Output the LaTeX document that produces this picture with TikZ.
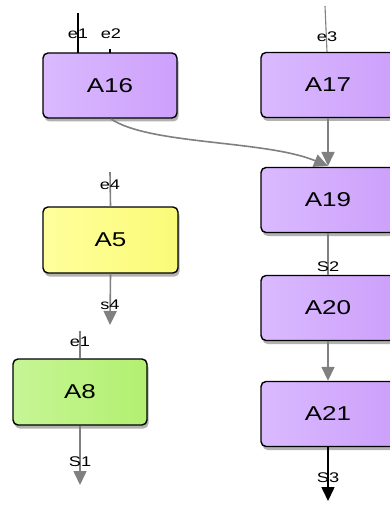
\documentclass[tikz,border=0pt]{standalone}
\usepackage{fontspec}
\setmainfont{Liberation Sans}[FakeStretch=1.3]
\usetikzlibrary{arrows.meta,shadows}
\definecolor{purpL}{HTML}{DABAFF}
\definecolor{purpD}{HTML}{CDA0FB}
\definecolor{yelL}{HTML}{FFFF9C}
\definecolor{yelD}{HTML}{FAFA78}
\definecolor{grnL}{HTML}{C6F596}
\definecolor{grnD}{HTML}{B2F070}
\definecolor{lineg}{HTML}{808080}
\begin{document}
\begin{tikzpicture}[x=1pt,y=-1pt,
  box/.style={draw=black, line width=1.4pt, rounded corners=5pt,
    minimum width=134pt, minimum height=65pt, inner sep=0pt,
    font=\fontsize{20}{22}\selectfont,
    drop shadow={shadow xshift=1.5pt, shadow yshift=-3.5pt, opacity=0.3, fill=black}},
  purpbox/.style={box, left color=purpL, right color=purpD},
  yelbox/.style={box, left color=yelL, right color=yelD},
  grnbox/.style={box, left color=grnL, right color=grnD},
  lbl/.style={font=\fontsize{14}{15}\selectfont, inner sep=0pt},
  gline/.style={draw=lineg, line width=1.6pt},
  garrow/.style={gline, -{Triangle[width=13pt,length=14pt]}},
  barrow/.style={draw=black, line width=1.6pt, -{Triangle[width=13pt,length=14pt]}},
]
\useasboundingbox (0,0) rectangle (390,505);
\fill[white] (0,0) rectangle (390,505);

% boxes
\node[purpbox] (A16) at (110,85.5) {A16};
\node[purpbox] (A17) at (328,85) {A17};
\node[purpbox] (A19) at (328,200) {A19};
\node[purpbox] (A20) at (328,308) {A20};
\node[purpbox] (A21) at (328,414) {A21};
\node[yelbox, minimum width=135pt, minimum height=66pt] (A5) at (110.5,240) {A5};
\node[grnbox, minimum height=66pt] (A8) at (80,392) {A8};

% free ends
\coordinate (e1top) at (78,13);
\coordinate (e1bot) at (78,53);
\coordinate (e2top) at (110,49);
\coordinate (e2bot) at (110,53);
\coordinate (e3top) at (325,6);
\coordinate (e3bot) at (327,52);
\coordinate (e4top) at (110,172);
\coordinate (s4end) at (110,325);
\coordinate (e1btop) at (80,331);
\coordinate (S1end) at (80,485);
\coordinate (S3end) at (328,501);
\coordinate (A19in) at (328,166);

% connectors
\draw[black, line width=1.6pt] (e1top) -- (e1bot);
\draw[black, line width=1.2pt] (e2top) -- (e2bot);
\draw[lineg, line width=1.1pt] (e3top) -- (e3bot);
\draw[gline] (e4top) -- (A5.north);
\draw[garrow] (A5.south) -- (s4end);
\draw[gline] (e1btop) -- (A8.north);
\draw[garrow] (A8.south) -- (S1end);
\draw[garrow] (A17.south) -- (A19in);
\draw[garrow] (111,119) .. controls (150,145) and (265,140) .. (A19in);
\draw[gline] (A19.south) -- (A20.north);
\draw[garrow] (A20.south) -- (A21.north);
\draw[barrow] (A21.south) -- (S3end);

% labels
\node[lbl] (le1) at (78,33.5) {e1};
\node[lbl] (le2) at (111,33.5) {e2};
\node[lbl] (le3) at (327,37) {e3};
\node[lbl] (le4) at (110,185) {e4};
\node[lbl] (ls4) at (110,305) {s4};
\node[lbl] (le1b) at (80,342) {e1};
\node[lbl] (lS1) at (80,462) {S1};
\node[lbl] (lS2) at (328,267) {S2};
\node[lbl] (lS3) at (328,478) {S3};
\end{tikzpicture}
\end{document}
